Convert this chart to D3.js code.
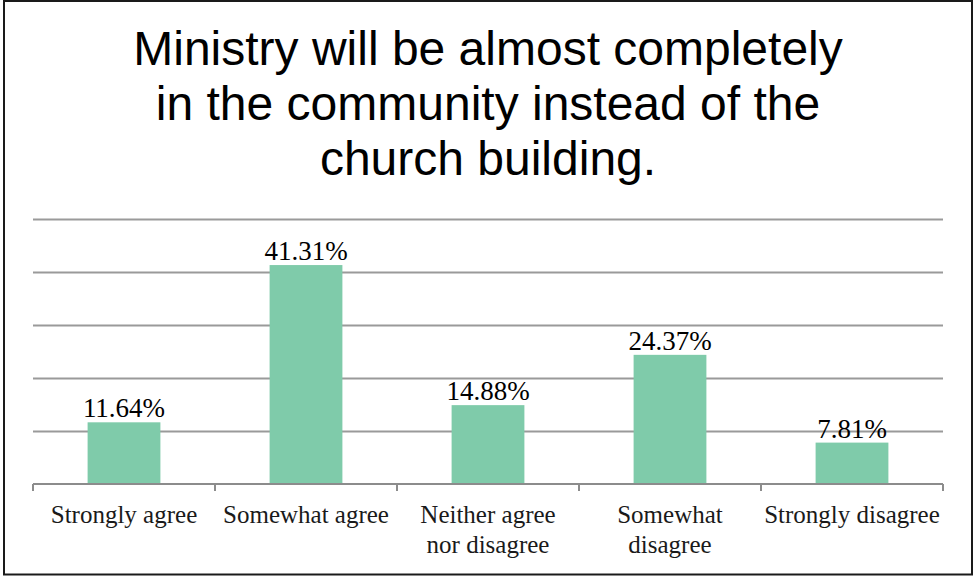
<!DOCTYPE html>
<html>
<head>
<meta charset="utf-8">
<script src="https://cdn.jsdelivr.net/npm/d3@7"></script>
<style>
  html, body { margin: 0; padding: 0; background: #fff; }
  svg { display: block; }
</style>
</head>
<body>
<svg id="chart" width="973" height="577"></svg>
<script>
// Survey responses: share of respondents per answer (percent)
const categories = [
  ["Strongly agree"],
  ["Somewhat agree"],
  ["Neither agree", "nor disagree"],
  ["Somewhat", "disagree"],
  ["Strongly disagree"]
];
const values = [11.64, 41.31, 14.88, 24.37, 7.81];
const yTicks = [0, 10, 20, 30, 40, 50];
const titleLines = [
  "Ministry will be almost completely",
  "in the community instead of the",
  "church building."
];

const svg = d3.select("#chart");
const plot = { left: 33, right: 943, top: 219, bottom: 484 };

// outer frame
svg.append("rect")
  .attr("x", 4).attr("y", 1)
  .attr("width", 968).attr("height", 573.5)
  .attr("fill", "#fff")
  .attr("stroke", "#1a1a1a")
  .attr("stroke-width", 2);

// title
svg.append("g")
  .selectAll("text")
  .data(titleLines)
  .join("text")
  .attr("x", 488)
  .attr("y", (d, i) => 65 + i * 55)
  .attr("text-anchor", "middle")
  .attr("font-family", "'Liberation Sans', Arial, sans-serif")
  .attr("font-size", 48)
  .attr("fill", "#000")
  .text(d => d);

const x = d3.scaleBand()
  .domain(d3.range(values.length))
  .range([plot.left, plot.right])
  .paddingInner(0.6)
  .paddingOuter(0.3);

const y = d3.scaleLinear()
  .domain([0, 50])
  .range([plot.bottom, plot.top]);

// horizontal gridlines
svg.append("g")
  .attr("transform", `translate(${plot.left},0)`)
  .call(d3.axisLeft(y).tickValues(yTicks.slice(1)).tickSize(-(plot.right - plot.left)).tickFormat(""))
  .call(g => g.select(".domain").remove())
  .call(g => g.selectAll(".tick line").attr("stroke", "#9a9a9a").attr("stroke-width", 2));

// bars
svg.append("g")
  .selectAll("rect")
  .data(values)
  .join("rect")
  .attr("x", (d, i) => x(i))
  .attr("y", d => y(d))
  .attr("width", x.bandwidth())
  .attr("height", d => y(0) - y(d))
  .attr("fill", "#7fcbaa");

// category axis with boundary ticks
const step = x.step();
const boundaries = d3.range(values.length + 1).map(i => plot.left + i * step);
const axisG = svg.append("g");
axisG.append("line")
  .attr("x1", plot.left).attr("x2", plot.right)
  .attr("y1", plot.bottom).attr("y2", plot.bottom)
  .attr("stroke", "#8c8c8c").attr("stroke-width", 2);
axisG.selectAll("line.tk")
  .data(boundaries)
  .join("line")
  .attr("class", "tk")
  .attr("x1", d => d).attr("x2", d => d)
  .attr("y1", plot.bottom).attr("y2", plot.bottom + 7)
  .attr("stroke", "#8c8c8c").attr("stroke-width", 2);

// category labels
const labelG = svg.append("g")
  .attr("font-family", "'Liberation Serif', 'Times New Roman', serif")
  .attr("font-size", 25)
  .attr("fill", "#1a1a1a")
  .attr("text-anchor", "middle");
categories.forEach((lines, i) => {
  const cx = x(i) + x.bandwidth() / 2;
  const t = labelG.append("text").attr("x", cx).attr("y", 523);
  lines.forEach((ln, j) => {
    t.append("tspan")
      .attr("x", cx)
      .attr("dy", j === 0 ? 0 : 30)
      .text(ln);
  });
});

// value labels
svg.append("g")
  .selectAll("text")
  .data(values)
  .join("text")
  .attr("x", (d, i) => x(i) + x.bandwidth() / 2)
  .attr("y", d => y(d) - 5)
  .attr("text-anchor", "middle")
  .attr("font-family", "'Liberation Serif', 'Times New Roman', serif")
  .attr("font-size", 27)
  .attr("fill", "#000")
  .text(d => d.toFixed(2) + "%");
</script>
</body>
</html>
